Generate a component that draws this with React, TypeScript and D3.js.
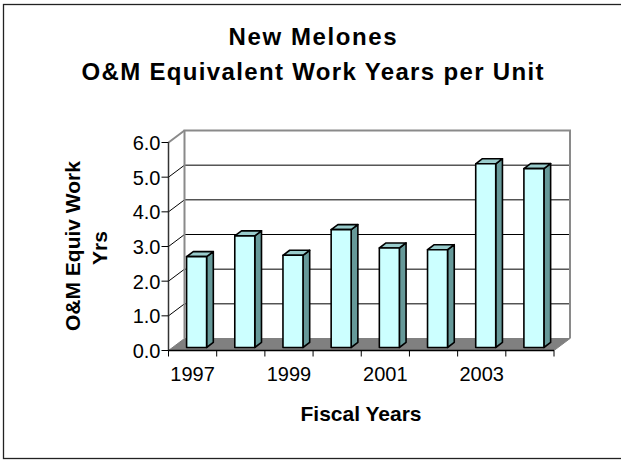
import React from "react";
import * as d3 from "d3";

// Fiscal years and O&M equivalent work years per unit
const years = ["1997", "1998", "1999", "2000", "2001", "2002", "2003", "2004"];
const workYears = [2.62, 3.22, 2.66, 3.4, 2.87, 2.82, 5.3, 5.16];
const yTicks = [0, 1, 2, 3, 4, 5, 6];
const shownYearLabels = ["1997", "1999", "2001", "2003"];

const W = 621;
const H = 460;
const FONT = "'Liberation Sans', Arial, sans-serif";

// 3-D frame geometry: front plane and depth offset to the back wall
const frontLeft = 168.5;
const frontRight = 554;
const depthX = 16;
const depthY = 12;

export default function App() {
  const x = d3.scaleBand<string>().domain(years).range([frontLeft, frontRight]).padding(0);
  const y = d3.scaleLinear().domain([0, 6]).range([350.5, 142.5]);

  const barW = 20;
  const f0 = 0.25; // depth fraction of bar front face
  const fd = 0.42; // depth fraction occupied by bar
  const bdx = depthX * fd;
  const bdy = depthY * fd;

  const backL = frontLeft + depthX;
  const backR = frontRight + depthX;
  const y0 = y(0);
  const yTop = y(6);

  const gridVals = yTicks.filter((v) => v > 0 && v < 6);

  return (
    <svg
      width={W}
      height={H}
      style={{ position: "absolute", left: 0, top: 0, background: "#fff" }}
      fontFamily={FONT}
    >
      <rect x={0} y={0} width={W} height={H} fill="#fff" />
      {/* outer frame */}
      <rect x={3.5} y={4.5} width={622} height={454} fill="none" stroke="#222" strokeWidth={1.3} />

      {/* title */}
      <text x={312.5} y={45} textAnchor="middle" fontSize={24} fontWeight="bold" textLength={168} lengthAdjust="spacing">
        New Melones
      </text>
      <text x={312.5} y={80} textAnchor="middle" fontSize={24} fontWeight="bold" textLength={462} lengthAdjust="spacing">
        O&amp;M Equivalent Work Years per Unit
      </text>

      {/* side wall gridlines (diagonals) */}
      {gridVals.map((v) => (
        <line key={"d" + v} x1={frontLeft} y1={y(v)} x2={backL} y2={y(v) - depthY} stroke="#000" strokeWidth={1} />
      ))}
      {/* back wall gridlines */}
      {gridVals.map((v) => (
        <line key={"g" + v} x1={backL} y1={y(v) - depthY} x2={backR} y2={y(v) - depthY} stroke="#000" strokeWidth={1} />
      ))}

      {/* floor */}
      <polygon
        points={`${frontLeft},${y0} ${backL},${y0 - depthY} ${backR},${y0 - depthY} ${frontRight},${y0}`}
        fill="#808080"
        stroke="#808080"
        strokeWidth={1}
      />

      {/* wall outlines */}
      <polyline
        points={`${backL},${y0 - depthY} ${backL},${yTop - depthY} ${backR},${yTop - depthY} ${backR},${y0 - depthY}`}
        fill="none"
        stroke="#8a8a8a"
        strokeWidth={2}
      />
      <line x1={frontLeft} y1={yTop} x2={backL} y2={yTop - depthY} stroke="#8a8a8a" strokeWidth={2} />

      {/* value axis */}
      <line x1={frontLeft} y1={yTop} x2={frontLeft} y2={y0} stroke="#333" strokeWidth={1.5} />
      {yTicks.map((v) => (
        <g key={"yt" + v}>
          <line x1={frontLeft - 7} y1={y(v)} x2={frontLeft} y2={y(v)} stroke="#000" strokeWidth={1} />
          <text x={frontLeft - 8} y={y(v) + 7.5} textAnchor="end" fontSize={20}>
            {v.toFixed(1)}
          </text>
        </g>
      ))}

      {/* category axis */}
      <line x1={frontLeft} y1={y0} x2={frontRight} y2={y0} stroke="#000" strokeWidth={1.5} />
      {years.concat(["end"]).map((yr, i) => {
        const xt = frontLeft + i * x.bandwidth();
        return <line key={"xt" + i} x1={xt} y1={y0} x2={xt} y2={y0 + 6} stroke="#000" strokeWidth={1} />;
      })}
      {shownYearLabels.map((yr) => (
        <text key={"xl" + yr} x={(x(yr) as number) + x.bandwidth() / 2} y={380.7} textAnchor="middle" fontSize={20}>
          {yr}
        </text>
      ))}

      {/* bars */}
      {workYears.map((v, i) => {
        const bx = (x(years[i]) as number) + (x.bandwidth() - barW) / 2 + depthX * f0;
        const yb = y(0) - depthY * f0;
        const yt = y(v) - depthY * f0;
        const xr = bx + barW;
        return (
          <g key={"b" + i} stroke="#000" strokeWidth={1.6} strokeLinejoin="round">
            <polygon points={`${xr},${yt} ${xr + bdx},${yt - bdy} ${xr + bdx},${yb - bdy} ${xr},${yb}`} fill="#669999" />
            <polygon points={`${bx},${yt} ${bx + bdx},${yt - bdy} ${xr + bdx},${yt - bdy} ${xr},${yt}`} fill="#99CCCC" />
            <rect x={bx} y={yt} width={barW} height={yb - yt} fill="#CCFFFF" />
          </g>
        );
      })}

      {/* axis titles */}
      <text x={361} y={421} textAnchor="middle" fontSize={21} fontWeight="bold">
        Fiscal Years
      </text>
      <text transform="translate(80,246) rotate(-90)" textAnchor="middle" fontSize={21} fontWeight="bold">
        O&amp;M Equiv Work
      </text>
      <text transform="translate(107,248) rotate(-90)" textAnchor="middle" fontSize={21} fontWeight="bold">
        Yrs
      </text>
    </svg>
  );
}
